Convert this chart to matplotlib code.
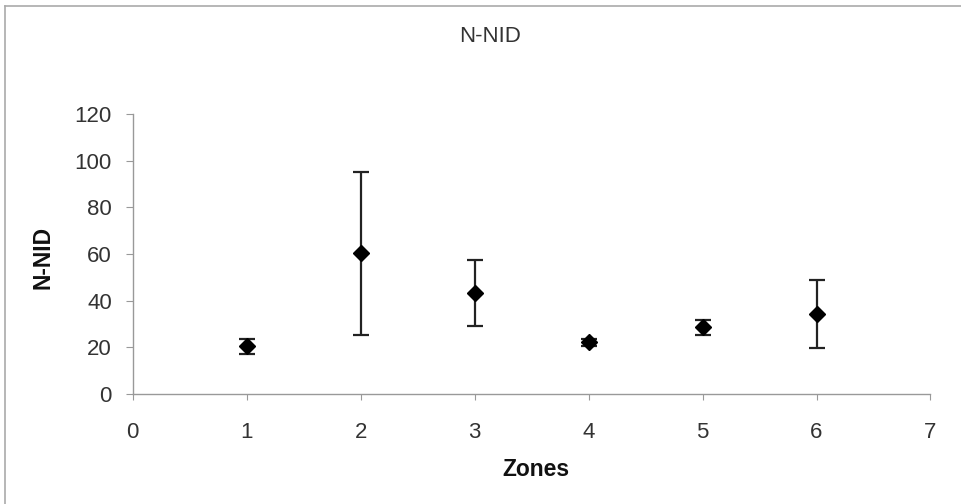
import matplotlib
matplotlib.use("Agg")
import matplotlib.pyplot as plt
from matplotlib.lines import Line2D

zones = [1, 2, 3, 4, 5, 6]
nnid_mean = [20.4, 60.3, 43.3, 22.2, 28.6, 34.4]
nnid_err = [3.3, 35.0, 14.3, 1.5, 3.2, 14.5]
x_ticks = [0, 1, 2, 3, 4, 5, 6, 7]
y_ticks = [0, 20, 40, 60, 80, 100, 120]

plt.rcParams['font.family'] = ['Liberation Sans', 'DejaVu Sans']

W, H = 962, 504
fig = plt.figure(figsize=(W / 100, H / 100), dpi=100)
ax = fig.add_axes([132.7 / W, 1 - 394 / H, (930.5 - 132.7) / W, (394 - 114) / H])

ax.errorbar(zones, nnid_mean, yerr=nnid_err, fmt='D', color='black',
            markersize=8, ecolor='#222222', elinewidth=1.6, capsize=5.5,
            capthick=1.6)

ax.set_xlim(0, 7)
ax.set_ylim(0, 120)
ax.set_xticks(x_ticks)
ax.set_yticks(y_ticks)
ax.tick_params(axis='both', labelsize=16, colors='#333333')
ax.tick_params(axis='y', length=5, width=0.8, color='#999999', pad=10)
ax.tick_params(axis='x', length=4, width=0.8, color='#999999', pad=16)

for s in ['top', 'right']:
    ax.spines[s].set_visible(False)
for s in ['left', 'bottom']:
    ax.spines[s].set_color('#999999')
    ax.spines[s].set_linewidth(1.0)

fig.text(490 / W, 1 - 37 / H, 'N-NID', fontsize=16, color='#333333',
         ha='center', va='center')
fig.text(43 / W, 1 - 257 / H, 'N-NID', fontsize=16.5, fontweight='bold',
         rotation=90, ha='center', va='center', color='#111111')
fig.text(536 / W, 1 - 470 / H, 'Zones', fontsize=16.5, fontweight='bold',
         ha='center', va='center', color='#111111')

# chart border (top and left edges visible in the reference)
fig.add_artist(Line2D([0.005, 1.0], [0.988, 0.988], color='#aaaaaa', lw=1.2,
                      transform=fig.transFigure))
fig.add_artist(Line2D([0.005, 0.005], [0.0, 0.988], color='#aaaaaa', lw=1.2,
                      transform=fig.transFigure))

fig.savefig('out.png', dpi=100)
